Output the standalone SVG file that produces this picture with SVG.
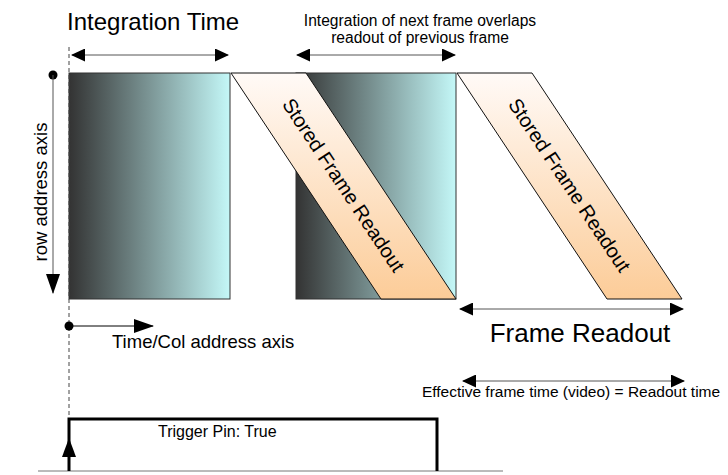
<svg xmlns="http://www.w3.org/2000/svg" width="728" height="475" viewBox="0 0 728 475">
<style>
text{font-family:"Liberation Sans",Arial,sans-serif;fill:#000}
.ax{stroke:#555;stroke-width:1;fill:none}
.rect{stroke:#333;stroke-width:1}
.par{stroke:#111;stroke-width:1;fill:url(#gPeach)}
</style>
<defs>
<linearGradient id="gRect1" gradientUnits="userSpaceOnUse" x1="69" y1="0" x2="230" y2="0">
<stop offset="0" stop-color="#333333"/><stop offset="1" stop-color="#c4f8f8"/>
</linearGradient>
<linearGradient id="gRect2" gradientUnits="userSpaceOnUse" x1="296" y1="0" x2="456" y2="0">
<stop offset="0" stop-color="#333333"/><stop offset="1" stop-color="#c4f8f8"/>
</linearGradient>
<linearGradient id="gPeach" x1="0" y1="0" x2="0" y2="1">
<stop offset="0" stop-color="#fffaf7"/><stop offset="1" stop-color="#fccc98"/>
</linearGradient>
<marker id="ah" viewBox="0 0 14 13" refX="13" refY="6.5" markerWidth="14" markerHeight="13" markerUnits="userSpaceOnUse" orient="auto-start-reverse">
<path d="M0,0 L14,6.5 L0,13 Z" fill="#000"/>
</marker>
<marker id="ahL" viewBox="0 0 20 14" refX="19" refY="7" markerWidth="20" markerHeight="14" markerUnits="userSpaceOnUse" orient="auto-start-reverse">
<path d="M0,0 L20,7 L0,14 Z" fill="#000"/>
</marker>
</defs>

<g id="frame1">
<rect class="rect" x="69" y="73" width="161" height="226" fill="url(#gRect1)"/>
</g>
<g id="frame2">
<rect class="rect" x="296" y="73" width="160" height="226" fill="url(#gRect2)"/>
</g>
<g id="readout1">
<polygon class="par" points="231,73 306,73 456,299 381,299"/>
<text font-size="20" text-anchor="middle" transform="translate(343.5,185) rotate(56.4)" dy="7">Stored Frame Readout</text>
</g>
<g id="readout2">
<polygon class="par" points="457,73 532,73 682,299 607,299"/>
<text font-size="20" text-anchor="middle" transform="translate(569.5,185) rotate(56.4)" dy="7">Stored Frame Readout</text>
</g>

<g id="labels">
<text x="67" y="30" font-size="24">Integration Time</text>
<text x="420" y="26" font-size="15.6" text-anchor="middle">Integration of next frame overlaps</text>
<text x="420" y="43" font-size="15.6" text-anchor="middle">readout of previous frame</text>
<text x="112" y="348" font-size="18.5">Time/Col address axis</text>
<text font-size="18.5" text-anchor="middle" transform="translate(47,192) rotate(-90)">row address axis</text>
<text x="580" y="342" font-size="26" text-anchor="middle">Frame Readout</text>
<text x="571" y="397" font-size="15.5" text-anchor="middle">Effective frame time (video) = Readout time</text>
<text x="158" y="437" font-size="16">Trigger Pin: True</text>
</g>

<g id="connectors">
<line x1="69" y1="47" x2="69" y2="419" stroke="#444" stroke-width="1" stroke-dasharray="4,3"/>
<line class="ax" x1="72" y1="55" x2="228" y2="55" marker-start="url(#ah)" marker-end="url(#ah)"/>
<line class="ax" x1="297" y1="55" x2="455" y2="55" marker-start="url(#ah)" marker-end="url(#ah)"/>
<line class="ax" x1="460" y1="309" x2="683" y2="309" marker-start="url(#ah)" marker-end="url(#ah)"/>
<line class="ax" x1="463" y1="381" x2="684" y2="381" marker-start="url(#ah)" marker-end="url(#ah)"/>
<circle cx="53" cy="75" r="4.5" fill="#000"/>
<line class="ax" x1="53" y1="75" x2="53" y2="293" marker-end="url(#ahL)"/>
<circle cx="69" cy="326" r="4.5" fill="#000"/>
<line x1="69" y1="326" x2="153" y2="326" stroke="#000" stroke-width="1" marker-end="url(#ahL)"/>
<line x1="38" y1="471" x2="503" y2="471" stroke="#777" stroke-width="1"/>
<polyline points="69,471 69,419 437,419 437,471" fill="none" stroke="#000" stroke-width="3"/>
<polygon points="69,438 76,457 62,457" fill="#000"/>
</g>
</svg>
